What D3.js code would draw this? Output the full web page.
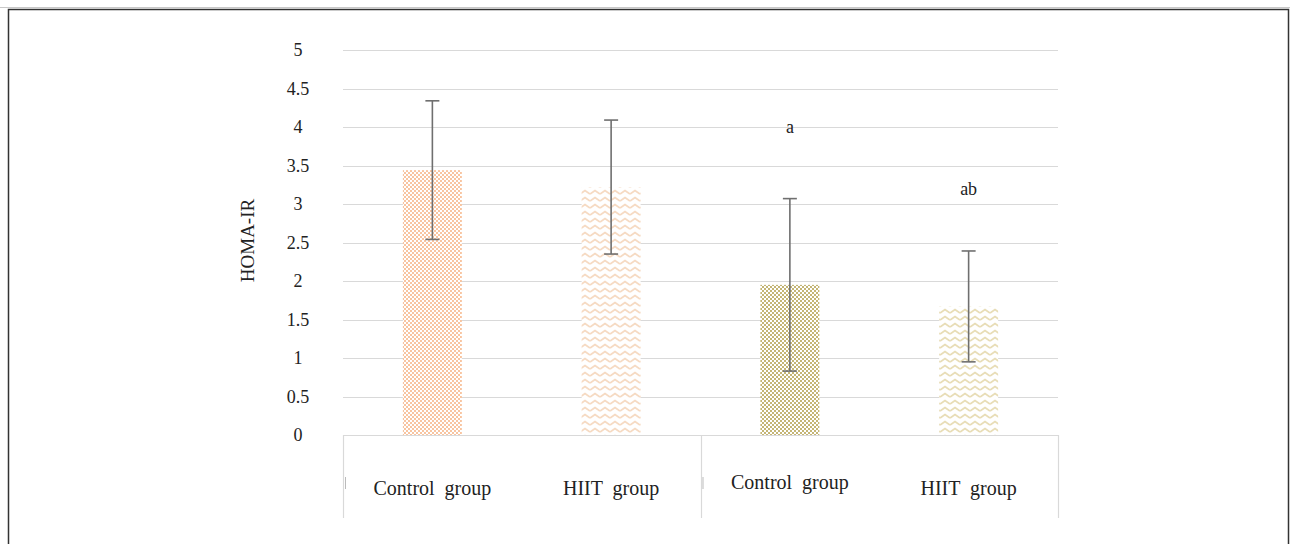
<!DOCTYPE html>
<html><head><meta charset="utf-8">
<script src="https://cdn.jsdelivr.net/npm/d3@7"></script>
<style>
html,body{margin:0;padding:0;background:#fff;}
svg{display:block;}
</style></head>
<body>
<script>
const categories = ["Control group", "HIIT group", "Control group", "HIIT group"];
const groups = ["pre", "pre", "post", "post"];
const means = [3.44, 3.22, 1.95, 1.67];
const errors = [0.90, 0.87, 1.12, 0.72];
const annotations = ["", "", "a", "ab"];
const annotationY = [0, 0, 4.0, 3.2];
const yTicks = [0, 0.5, 1, 1.5, 2, 2.5, 3, 3.5, 4, 4.5, 5];
const patternKinds = ["checker", "zigzag", "checker", "zigzag"];
const colors = ["#f8c4a0", "#f6dac2", "#c4b575", "#e8ddb6"];

const FONT = "'Liberation Serif', 'Times New Roman', serif";
const W = 1290, H = 544;
const svg = d3.select("body").append("svg").attr("width", W).attr("height", H)
  .attr("font-family", FONT).style("font-family", FONT);

// outer frame
svg.append("line").attr("x1",0).attr("x2",W).attr("y1",7.5).attr("y2",7.5).attr("stroke","#c8c8c8").attr("stroke-width",1);
svg.append("rect").attr("x",8.5).attr("y",9.5).attr("width",1280).attr("height",560)
  .attr("fill","none").attr("stroke","#333").attr("stroke-width",1.5);

const left = 343, right = 1058;
const x = d3.scaleBand().domain(d3.range(categories.length)).range([left, right]).paddingInner(0).paddingOuter(0);
const y = d3.scaleLinear().domain([0, 5]).range([435, 50]);
const barW = x.bandwidth() * 0.33;

// patterns
const defs = svg.append("defs");
categories.forEach((c, i) => {
  const col = colors[i];
  if (patternKinds[i] === "checker") {
    const p = defs.append("pattern").attr("id", "pat" + i).attr("patternUnits", "userSpaceOnUse")
      .attr("width", 4).attr("height", 4);
    p.append("rect").attr("width", 4).attr("height", 4).attr("fill", "#fff");
    p.append("rect").attr("x",0).attr("y",0).attr("width", 2).attr("height", 2).attr("fill", col);
    p.append("rect").attr("x",2).attr("y",2).attr("width", 2).attr("height", 2).attr("fill", col);
  } else {
    const p = defs.append("pattern").attr("id", "pat" + i).attr("patternUnits", "userSpaceOnUse")
      .attr("width", 10).attr("height", 7);
    p.append("rect").attr("width", 10).attr("height", 7).attr("fill", "#fff");
    p.append("path").attr("d", "M0,5 L5,1.5 L10,5").attr("fill", "none").attr("stroke", col).attr("stroke-width", 1.8);
  }
});

// gridlines
svg.append("g").selectAll("line").data(yTicks.filter(t => t > 0)).join("line")
  .attr("x1", left).attr("x2", right)
  .attr("y1", d => Math.round(y(d)) + 0.5).attr("y2", d => Math.round(y(d)) + 0.5)
  .attr("stroke", "#d9d9d9").attr("stroke-width", 1.2);

// y tick labels
svg.append("g").selectAll("text").data(yTicks).join("text")
  .attr("x", 298).attr("y", d => y(d)).attr("dy", "0.35em")
  .attr("text-anchor", "middle").attr("font-size", 18).attr("fill", "#222")
  .text(d => d);

// y axis title
svg.append("text").attr("transform", `translate(247,${(y(0)+y(5))/2 - 2}) rotate(-90)`)
  .attr("text-anchor", "middle").attr("dy", "0.35em").attr("font-size", 19).attr("fill", "#222").text("HOMA-IR");

// bars
svg.append("g").selectAll("rect").data(means).join("rect")
  .attr("x", (d, i) => x(i) + x.bandwidth() / 2 - barW / 2)
  .attr("width", barW)
  .attr("y", d => y(d)).attr("height", d => y(0) - y(d))
  .attr("fill", (d, i) => `url(#pat${i})`);

// error bars
const eb = svg.append("g").attr("stroke", "#6f6f6f").attr("stroke-width", 1.6);
means.forEach((m, i) => {
  const cx = x(i) + x.bandwidth() / 2;
  const top = y(m + errors[i]), bot = y(m - errors[i]);
  eb.append("line").attr("x1", cx).attr("x2", cx).attr("y1", top).attr("y2", bot);
  eb.append("line").attr("x1", cx - 7).attr("x2", cx + 7).attr("y1", top).attr("y2", top);
  eb.append("line").attr("x1", cx - 7).attr("x2", cx + 7).attr("y1", bot).attr("y2", bot);
});

// annotations
svg.append("g").selectAll("text").data(annotations).join("text")
  .attr("x", (d, i) => x(i) + x.bandwidth() / 2)
  .attr("y", (d, i) => y(annotationY[i])).attr("dy", "0.35em")
  .attr("text-anchor", "middle").attr("font-size", 18).attr("fill", "#222").text(d => d);

// category axis box
const axisG = svg.append("g").attr("stroke", "#d9d9d9").attr("stroke-width", 1.2);
axisG.append("line").attr("x1", left).attr("x2", right).attr("y1", y(0) + 0.5).attr("y2", y(0) + 0.5);
const seps = [0, 2, 4].map(k => k < categories.length ? x(k) : right);
seps.forEach(sx => {
  axisG.append("line").attr("x1", Math.round(sx) + 0.5).attr("x2", Math.round(sx) + 0.5)
    .attr("y1", y(0)).attr("y2", 518);
});
// small marks near the group separators
[0, 2].forEach(k => {
  svg.append("line").attr("x1", x(k) + 2.5).attr("x2", x(k) + 2.5).attr("y1", 477).attr("y2", 489)
    .attr("stroke", "#bbb").attr("stroke-width", 1);
});

// category labels
const labelY = [488, 488, 482, 488];
svg.append("g").selectAll("text").data(categories).join("text")
  .attr("x", (d, i) => x(i) + x.bandwidth() / 2)
  .attr("y", (d, i) => labelY[i]).attr("dy", "0.35em")
  .attr("text-anchor", "middle").attr("font-size", 20).attr("fill", "#222")
  .attr("xml:space", "preserve").style("white-space", "pre")
  .text(d => d.replace(" ", "  "));
</script>
</body></html>
